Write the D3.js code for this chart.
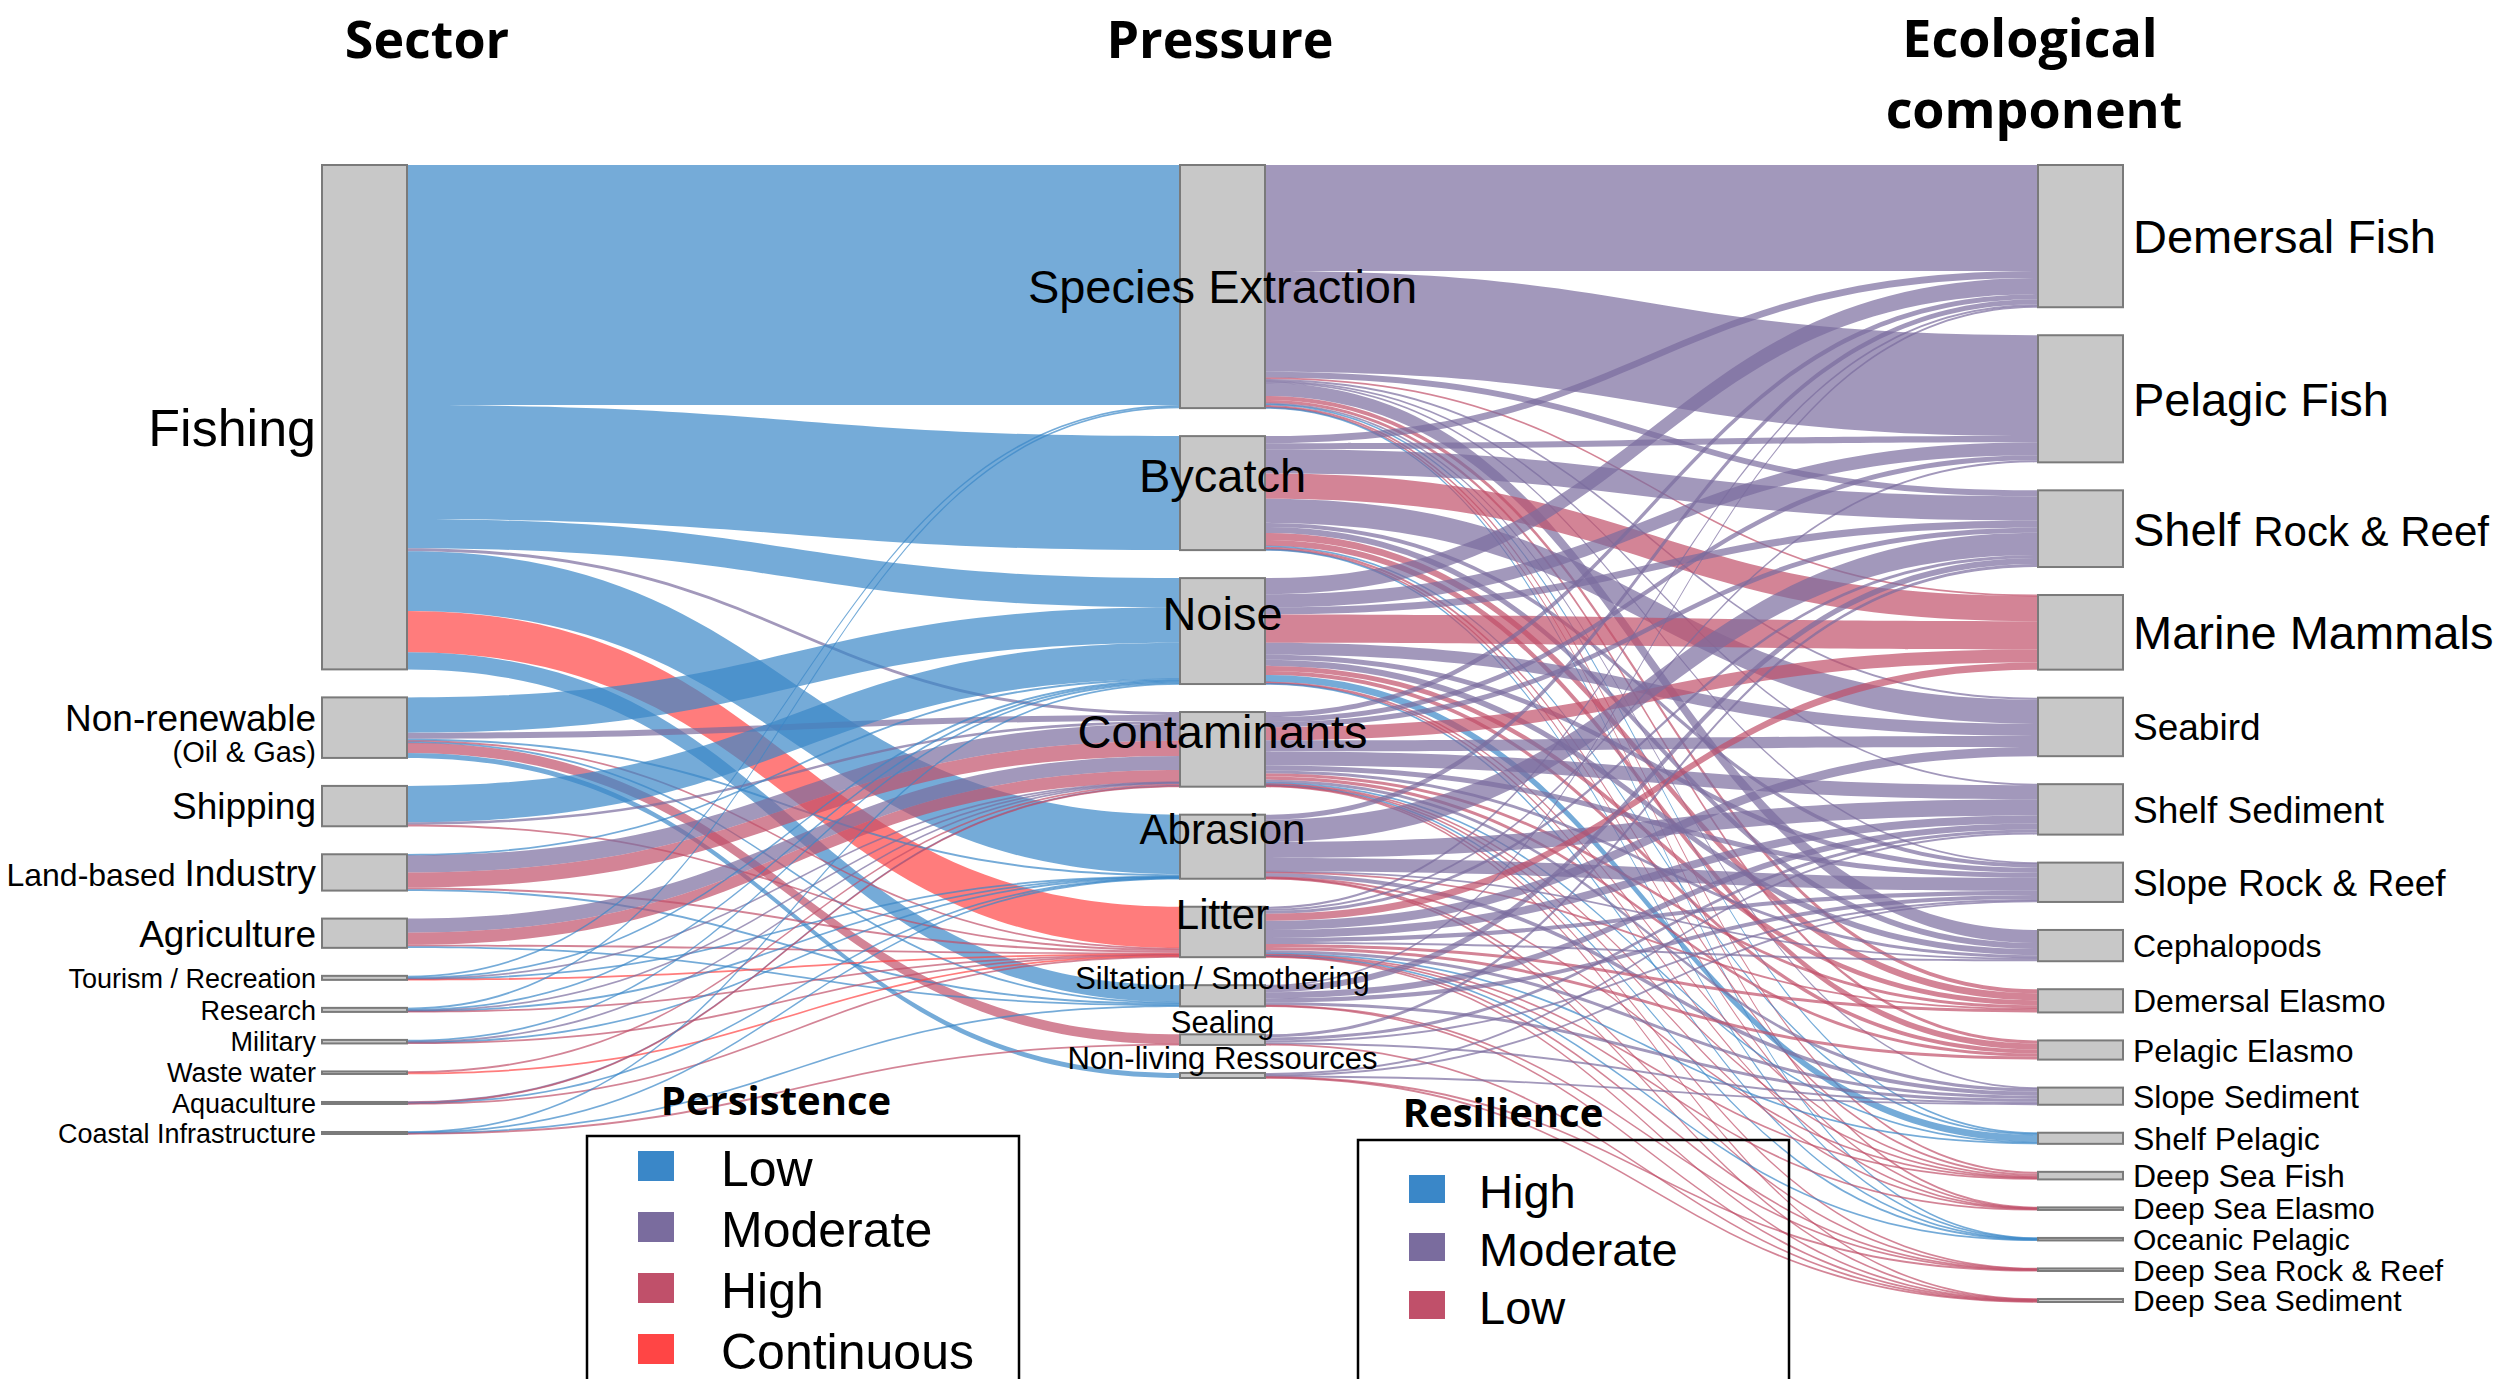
<!DOCTYPE html>
<html>
<head>
<meta charset="utf-8">
<script src="https://cdn.jsdelivr.net/npm/d3@7"></script>
<style>
  html, body { margin: 0; padding: 0; background: #ffffff; }
  svg { display: block; }
</style>
</head>
<body>
<svg id="chart" width="2507" height="1379"></svg>
<script>
// ---------------------------------------------------------------
// Data: sectors -> pressures -> ecological components
// ---------------------------------------------------------------
const sectors = ["Fishing", "Non-renewable (Oil & Gas)", "Shipping", "Land-based Industry", "Agriculture",
  "Tourism / Recreation", "Research", "Military", "Waste water", "Aquaculture", "Coastal Infrastructure"];

const pressures = ["Species Extraction", "Bycatch", "Noise", "Contaminants", "Abrasion", "Litter",
  "Siltation / Smothering", "Sealing", "Non-living Ressources"];

const components = ["Demersal Fish", "Pelagic Fish", "Shelf Rock & Reef", "Marine Mammals", "Seabird",
  "Shelf Sediment", "Slope Rock & Reef", "Cephalopods", "Demersal Elasmo", "Pelagic Elasmo",
  "Slope Sediment", "Shelf Pelagic", "Deep Sea Fish", "Deep Sea Elasmo", "Oceanic Pelagic",
  "Deep Sea Rock & Reef", "Deep Sea Sediment"];

// resilience class of each ecological component (same order as components)
const componentResilience = ["Moderate", "Moderate", "Moderate", "Low", "Moderate",
  "Moderate", "Moderate", "Moderate", "Low", "Low",
  "Moderate", "High", "Low", "Low", "High",
  "Low", "Low"];

const persistenceLevels = ["Low", "Moderate", "High", "Continuous"];
const resilienceLevels = ["High", "Moderate", "Low"];

// sector -> pressure : [sector, pressure, value, persistence]
const sectorPressureLinks = [
  ["Fishing", "Species Extraction", 238, "Low"],
  ["Fishing", "Bycatch", 113, "Low"],
  ["Fishing", "Noise", 29, "Low"],
  ["Fishing", "Contaminants", 3, "Moderate"],
  ["Fishing", "Abrasion", 59, "Low"],
  ["Fishing", "Litter", 41, "Continuous"],
  ["Fishing", "Siltation / Smothering", 17, "Low"],
  ["Non-renewable (Oil & Gas)", "Noise", 35, "Low"],
  ["Non-renewable (Oil & Gas)", "Contaminants", 6, "Moderate"],
  ["Non-renewable (Oil & Gas)", "Abrasion", 2, "Low"],
  ["Non-renewable (Oil & Gas)", "Litter", 1, "High"],
  ["Non-renewable (Oil & Gas)", "Siltation / Smothering", 1, "Low"],
  ["Non-renewable (Oil & Gas)", "Sealing", 10, "High"],
  ["Non-renewable (Oil & Gas)", "Non-living Ressources", 5, "Low"],
  ["Shipping", "Noise", 36, "Low"],
  ["Shipping", "Contaminants", 2.5, "Moderate"],
  ["Shipping", "Litter", 1.5, "High"],
  ["Land-based Industry", "Noise", 1, "Low"],
  ["Land-based Industry", "Contaminants", 17, "Moderate"],
  ["Land-based Industry", "Contaminants", 15, "High"],
  ["Land-based Industry", "Litter", 2, "High"],
  ["Land-based Industry", "Siltation / Smothering", 1, "Low"],
  ["Agriculture", "Contaminants", 14, "Moderate"],
  ["Agriculture", "Contaminants", 12, "High"],
  ["Agriculture", "Litter", 1.5, "High"],
  ["Agriculture", "Siltation / Smothering", 1.5, "Low"],
  ["Tourism / Recreation", "Species Extraction", 1.5, "Low"],
  ["Tourism / Recreation", "Noise", 1, "Low"],
  ["Tourism / Recreation", "Contaminants", 0.5, "Moderate"],
  ["Tourism / Recreation", "Abrasion", 0.5, "Low"],
  ["Tourism / Recreation", "Litter", 0.5, "Continuous"],
  ["Research", "Species Extraction", 1.5, "Low"],
  ["Research", "Noise", 1, "Low"],
  ["Research", "Contaminants", 0.5, "Moderate"],
  ["Research", "Abrasion", 0.5, "Low"],
  ["Research", "Litter", 0.5, "High"],
  ["Military", "Noise", 1.5, "Low"],
  ["Military", "Contaminants", 1, "Moderate"],
  ["Military", "Abrasion", 0.5, "Low"],
  ["Military", "Litter", 0.5, "High"],
  ["Waste water", "Contaminants", 1.5, "High"],
  ["Waste water", "Litter", 1, "Continuous"],
  ["Aquaculture", "Contaminants", 0.5, "Moderate"],
  ["Aquaculture", "Contaminants", 0.5, "High"],
  ["Aquaculture", "Abrasion", 0.5, "Low"],
  ["Aquaculture", "Litter", 0.5, "High"],
  ["Coastal Infrastructure", "Noise", 0.5, "Low"],
  ["Coastal Infrastructure", "Abrasion", 0.5, "Low"],
  ["Coastal Infrastructure", "Siltation / Smothering", 0.5, "Low"],
  ["Coastal Infrastructure", "Sealing", 0.5, "High"]
];

// pressure -> ecological component : [pressure, component, value]
const pressureComponentLinks = [
  ["Species Extraction", "Demersal Fish", 105], ["Species Extraction", "Pelagic Fish", 100],
  ["Species Extraction", "Shelf Rock & Reef", 6], ["Species Extraction", "Marine Mammals", 1],
  ["Species Extraction", "Seabird", 2], ["Species Extraction", "Shelf Sediment", 1],
  ["Species Extraction", "Slope Rock & Reef", 1], ["Species Extraction", "Cephalopods", 13],
  ["Species Extraction", "Demersal Elasmo", 4], ["Species Extraction", "Pelagic Elasmo", 3],
  ["Species Extraction", "Slope Sediment", 1], ["Species Extraction", "Shelf Pelagic", 1],
  ["Species Extraction", "Deep Sea Fish", 2], ["Species Extraction", "Deep Sea Elasmo", 0.5],
  ["Species Extraction", "Oceanic Pelagic", 0.5],

  ["Bycatch", "Demersal Fish", 7], ["Bycatch", "Pelagic Fish", 6], ["Bycatch", "Shelf Rock & Reef", 24],
  ["Bycatch", "Marine Mammals", 25], ["Bycatch", "Seabird", 24], ["Bycatch", "Slope Rock & Reef", 4],
  ["Bycatch", "Cephalopods", 6], ["Bycatch", "Demersal Elasmo", 7], ["Bycatch", "Pelagic Elasmo", 6],
  ["Bycatch", "Shelf Pelagic", 1], ["Bycatch", "Deep Sea Fish", 2], ["Bycatch", "Deep Sea Elasmo", 0.5],
  ["Bycatch", "Oceanic Pelagic", 0.5],

  ["Noise", "Demersal Fish", 16], ["Noise", "Pelagic Fish", 13], ["Noise", "Shelf Rock & Reef", 7],
  ["Noise", "Marine Mammals", 28], ["Noise", "Seabird", 12], ["Noise", "Slope Rock & Reef", 5],
  ["Noise", "Cephalopods", 6], ["Noise", "Demersal Elasmo", 5], ["Noise", "Pelagic Elasmo", 4],
  ["Noise", "Shelf Pelagic", 7], ["Noise", "Deep Sea Fish", 1], ["Noise", "Deep Sea Elasmo", 0.5],
  ["Noise", "Oceanic Pelagic", 0.5],

  ["Contaminants", "Demersal Fish", 5], ["Contaminants", "Pelagic Fish", 5], ["Contaminants", "Shelf Rock & Reef", 5],
  ["Contaminants", "Marine Mammals", 13], ["Contaminants", "Seabird", 11], ["Contaminants", "Shelf Sediment", 14],
  ["Contaminants", "Slope Rock & Reef", 5], ["Contaminants", "Cephalopods", 3], ["Contaminants", "Demersal Elasmo", 3],
  ["Contaminants", "Pelagic Elasmo", 3], ["Contaminants", "Slope Sediment", 3], ["Contaminants", "Shelf Pelagic", 1],
  ["Contaminants", "Deep Sea Fish", 1], ["Contaminants", "Deep Sea Elasmo", 0.5], ["Contaminants", "Oceanic Pelagic", 0.5],
  ["Contaminants", "Deep Sea Rock & Reef", 0.5], ["Contaminants", "Deep Sea Sediment", 0.5],

  ["Abrasion", "Demersal Fish", 5], ["Abrasion", "Shelf Rock & Reef", 22], ["Abrasion", "Shelf Sediment", 16],
  ["Abrasion", "Slope Rock & Reef", 13], ["Abrasion", "Cephalopods", 1], ["Abrasion", "Demersal Elasmo", 1],
  ["Abrasion", "Slope Sediment", 4], ["Abrasion", "Deep Sea Fish", 0.5], ["Abrasion", "Deep Sea Rock & Reef", 0.5],
  ["Abrasion", "Deep Sea Sediment", 0.5],

  ["Litter", "Demersal Fish", 2], ["Litter", "Pelagic Fish", 2], ["Litter", "Shelf Rock & Reef", 3],
  ["Litter", "Marine Mammals", 7], ["Litter", "Seabird", 9], ["Litter", "Shelf Sediment", 8],
  ["Litter", "Slope Rock & Reef", 4], ["Litter", "Cephalopods", 2], ["Litter", "Demersal Elasmo", 3],
  ["Litter", "Pelagic Elasmo", 3], ["Litter", "Slope Sediment", 3], ["Litter", "Shelf Pelagic", 1],
  ["Litter", "Deep Sea Fish", 1], ["Litter", "Deep Sea Elasmo", 0.5], ["Litter", "Oceanic Pelagic", 0.5],
  ["Litter", "Deep Sea Rock & Reef", 0.5], ["Litter", "Deep Sea Sediment", 0.5],

  ["Siltation / Smothering", "Demersal Fish", 1], ["Siltation / Smothering", "Shelf Rock & Reef", 6],
  ["Siltation / Smothering", "Shelf Sediment", 6], ["Siltation / Smothering", "Slope Rock & Reef", 4],
  ["Siltation / Smothering", "Slope Sediment", 3], ["Siltation / Smothering", "Deep Sea Rock & Reef", 0.5],
  ["Siltation / Smothering", "Deep Sea Sediment", 0.5],

  ["Sealing", "Shelf Rock & Reef", 3], ["Sealing", "Shelf Sediment", 3], ["Sealing", "Slope Rock & Reef", 2],
  ["Sealing", "Slope Sediment", 2], ["Sealing", "Deep Sea Sediment", 0.5],

  ["Non-living Ressources", "Shelf Sediment", 2], ["Non-living Ressources", "Slope Rock & Reef", 1],
  ["Non-living Ressources", "Slope Sediment", 1], ["Non-living Ressources", "Deep Sea Rock & Reef", 0.5],
  ["Non-living Ressources", "Deep Sea Sediment", 0.5]
];

// ---------------------------------------------------------------
// Styling
// ---------------------------------------------------------------
const persistenceColor = d3.scaleOrdinal(persistenceLevels, ["#3a87c8", "#7a6c9e", "#c0506a", "#ff4545"]);
const resilienceColor = d3.scaleOrdinal(resilienceLevels, ["#3a87c8", "#7a6c9e", "#c0506a"]);
const LABEL_FONT = "'Liberation Sans', Arial, sans-serif";
const TITLE_FONT = "'Open Sans', 'Noto Sans', sans-serif";

const svg = d3.select("#chart");

// ---------------------------------------------------------------
// Sankey layout (three fixed columns, nodes stacked top-down)
// ---------------------------------------------------------------
const columnX = [322, 1180, 2038];
const nodeWidth = 85;
const nodePad = 28;
const extentTop = 165, extentBottom = 1302;

const columns = [sectors, pressures, components];
const nodes = [];
columns.forEach((names, c) => names.forEach((name, i) =>
  nodes.push({ name, col: c, index: i, inSum: 0, outSum: 0, outLinks: [], inLinks: [] })));
const findNode = (c, name) => nodes.find(n => n.col === c && n.name === name);

const links = [];
sectorPressureLinks.forEach(([s, t, v, p]) =>
  links.push({ source: findNode(0, s), target: findNode(1, t), value: v, color: persistenceColor(p) }));
pressureComponentLinks.forEach(([s, t, v]) =>
  links.push({ source: findNode(1, s), target: findNode(2, t), value: v,
               color: resilienceColor(componentResilience[components.indexOf(t)]) }));

links.forEach(l => {
  l.source.outSum += l.value; l.target.inSum += l.value;
  l.source.outLinks.push(l); l.target.inLinks.push(l);
});
nodes.forEach(n => n.value = Math.max(n.inSum, n.outSum));

// common value -> pixel scale, limited by the most crowded column
const kPerColumn = columns.map((names, c) => {
  const colNodes = nodes.filter(n => n.col === c);
  const total = d3.sum(colNodes, n => n.value);
  return (extentBottom - extentTop - (colNodes.length - 1) * nodePad) / total;
});
const k = d3.min(kPerColumn);
const size = d3.scaleLinear().domain([0, 1]).range([0, k]);

columns.forEach((names, c) => {
  let y = extentTop;
  nodes.filter(n => n.col === c).forEach(n => {
    n.x0 = columnX[c]; n.x1 = columnX[c] + nodeWidth;
    n.y0 = y; n.y1 = y + size(n.value);
    y = n.y1 + nodePad;
  });
});

// attach link ends, ordered by the position of the opposite node
nodes.forEach(n => {
  let y = n.y0;
  n.outLinks.slice().sort((a, b) => a.target.y0 - b.target.y0).forEach(l => { l.sy0 = y; y += size(l.value); });
  y = n.y0;
  n.inLinks.slice().sort((a, b) => a.source.y0 - b.source.y0).forEach(l => { l.ty0 = y; y += size(l.value); });
});

function bandPath(l) {
  const x0 = l.source.x1, x1 = l.target.x0, xm = (x0 + x1) / 2;
  let w = size(l.value), a = l.sy0, b = l.ty0;
  const minW = 1.8;
  if (w < minW) { const d = (minW - w) / 2; a -= d; b -= d; w = minW; }
  const p = d3.path();
  p.moveTo(x0, a);
  p.bezierCurveTo(xm, a, xm, b, x1, b);
  p.lineTo(x1, b + w);
  p.bezierCurveTo(xm, b + w, xm, a + w, x0, a + w);
  p.closePath();
  return p.toString();
}

// ---------------------------------------------------------------
// Links
// ---------------------------------------------------------------
svg.append("g").attr("class", "links")
  .selectAll("path").data(links).join("path")
  .attr("d", bandPath)
  .attr("fill", d => d.color)
  .attr("fill-opacity", 0.7)
  .attr("stroke", "none");

// ---------------------------------------------------------------
// Nodes
// ---------------------------------------------------------------
svg.append("g").attr("class", "nodes")
  .selectAll("rect").data(nodes).join("rect")
  .attr("x", d => d.x0)
  .attr("y", d => d.y0)
  .attr("width", nodeWidth)
  .attr("height", d => Math.max(0.5, d.y1 - d.y0))
  .attr("fill", "#c8c8c8")
  .attr("stroke", "#7a7a7a")
  .attr("stroke-width", 2);

// ---------------------------------------------------------------
// Node labels
// ---------------------------------------------------------------
const labels = svg.append("g").attr("class", "labels")
  .attr("font-family", LABEL_FONT).attr("fill", "#000");

function sectorFont(n) { const h = n.y1 - n.y0; return h > 200 ? 52 : (h >= 20 ? 37 : 27); }
function pressureFont(n) { const h = n.y1 - n.y0; return h >= 70 ? 47 : (h >= 40 ? 42 : 31); }
function componentFont(n) { const h = n.y1 - n.y0; return h >= 70 ? 47 : (h >= 36 ? 37 : (h >= 5 ? 32 : 30)); }

// sectors: right-aligned, left of the column
nodes.filter(n => n.col === 0).forEach(n => {
  const cy = (n.y0 + n.y1) / 2, fs = sectorFont(n), x = n.x0 - 6;
  if (n.name.startsWith("Non-renewable")) {
    const t = labels.append("text").attr("text-anchor", "end");
    t.append("tspan").attr("x", x).attr("y", cy + 3).attr("font-size", 37).text("Non-renewable");
    t.append("tspan").attr("x", x).attr("y", cy + 34).attr("font-size", 29).text("(Oil & Gas)");
  } else if (n.name === "Land-based Industry") {
    const t = labels.append("text").attr("text-anchor", "end").attr("x", x).attr("y", cy + fs * 0.36);
    t.append("tspan").attr("font-size", 32).text("Land-based ");
    t.append("tspan").attr("font-size", fs).text("Industry");
  } else {
    labels.append("text").attr("text-anchor", "end").attr("x", x)
      .attr("y", cy + fs * 0.36 + (fs > 50 ? 10 : 0)).attr("font-size", fs).text(n.name);
  }
});

// pressures: centred on the column
nodes.filter(n => n.col === 1).forEach(n => {
  const cy = (n.y0 + n.y1) / 2, fs = pressureFont(n);
  const lift = (n.y1 - n.y0) > 200 ? 0 : -18;
  labels.append("text").attr("text-anchor", "middle").attr("x", (n.x0 + n.x1) / 2)
    .attr("y", cy + lift + fs * 0.36).attr("font-size", fs).text(n.name);
});

// ecological components: left-aligned, right of the column
nodes.filter(n => n.col === 2).forEach(n => {
  const cy = (n.y0 + n.y1) / 2, fs = componentFont(n), x = n.x1 + 10;
  if (n.name === "Shelf Rock & Reef") {
    const t = labels.append("text").attr("x", x).attr("y", cy + fs * 0.36);
    t.append("tspan").attr("font-size", fs).text("Shelf ");
    t.append("tspan").attr("font-size", 42).text("Rock & Reef");
  } else {
    labels.append("text").attr("x", x).attr("y", cy + fs * 0.36).attr("font-size", fs).text(n.name);
  }
});

// ---------------------------------------------------------------
// Column titles
// ---------------------------------------------------------------
const titles = svg.append("g").attr("font-family", TITLE_FONT).attr("font-weight", 700)
  .attr("font-size", 52).attr("text-anchor", "middle").attr("fill", "#000");
titles.append("text").attr("x", 427).attr("y", 58).text("Sector");
titles.append("text").attr("x", 1220).attr("y", 58).text("Pressure");
titles.append("text").attr("x", 2030).attr("y", 57).text("Ecological");
titles.append("text").attr("x", 2034).attr("y", 128).text("component");

// ---------------------------------------------------------------
// Legends
// ---------------------------------------------------------------
function legend(g, cfg) {
  g.append("text").attr("x", cfg.titleX).attr("y", cfg.titleY)
    .attr("font-family", TITLE_FONT).attr("font-weight", 700).attr("font-size", 40)
    .attr("text-anchor", "middle").text(cfg.title);
  g.append("rect").attr("x", cfg.boxX).attr("y", cfg.boxY).attr("width", cfg.boxW).attr("height", 300)
    .attr("fill", "none").attr("stroke", "#000").attr("stroke-width", 2.5);
  const row = d3.scalePoint().domain(cfg.levels)
    .range([cfg.firstBaseline, cfg.firstBaseline + cfg.step * (cfg.levels.length - 1)]);
  const items = g.selectAll("g.item").data(cfg.levels).join("g").attr("class", "item");
  items.append("rect").attr("x", cfg.boxX + 51).attr("y", d => row(d) - cfg.swH - 5)
    .attr("width", 36).attr("height", cfg.swH).attr("fill", d => cfg.color(d));
  items.append("text").attr("x", cfg.boxX + cfg.textDx).attr("y", d => row(d))
    .attr("font-family", LABEL_FONT).attr("font-size", cfg.fontSize).text(d => d);
}

legend(svg.append("g"), {
  title: "Persistence", titleX: 776, titleY: 1115,
  boxX: 587, boxY: 1136, boxW: 432,
  levels: persistenceLevels, color: persistenceColor,
  firstBaseline: 1186, step: 61, swH: 30, textDx: 134, fontSize: 50
});
legend(svg.append("g"), {
  title: "Resilience", titleX: 1503, titleY: 1127,
  boxX: 1358, boxY: 1140, boxW: 431,
  levels: resilienceLevels, color: resilienceColor,
  firstBaseline: 1208, step: 58, swH: 28, textDx: 121, fontSize: 47
});
</script>
</body>
</html>
